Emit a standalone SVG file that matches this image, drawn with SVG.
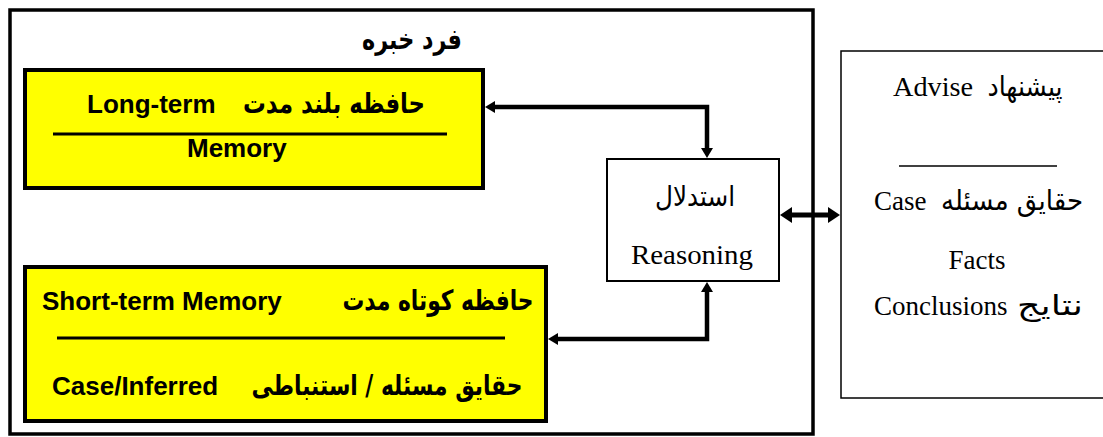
<svg xmlns="http://www.w3.org/2000/svg" width="1103" height="437" viewBox="0 0 1103 437">
  <style>
    .frame { fill: #ffffff; stroke: #000000; stroke-width: 3.5; }
    .mem { fill: #ffff00; stroke: #000000; stroke-width: 4; }
    .box { fill: #ffffff; stroke: #000000; stroke-width: 2; }
    .rbox { fill: #ffffff; stroke: #000000; stroke-width: 1.5; }
    .sep { stroke: #000000; stroke-width: 3; }
    .en { font-family: "Liberation Sans", Arial, sans-serif; font-weight: bold; font-size: 26px; fill: #000; }
    .fa { font-family: "DejaVu Sans", sans-serif; font-weight: bold; font-size: 28px; fill: #000; }
    .ser { font-family: "Liberation Serif", "Times New Roman", serif; font-size: 27px; fill: #000; }
    .fas { font-family: "DejaVu Sans", sans-serif; font-size: 28px; fill: #000; }
    .conn { fill: none; stroke: #000000; stroke-width: 4.5; }
    .conn2 { fill: none; stroke: #000000; stroke-width: 5; }
  </style>
  <defs>
    <marker id="ah" markerUnits="userSpaceOnUse" markerWidth="10" markerHeight="12" refX="0" refY="6" orient="auto-start-reverse">
      <path d="M0,0 L10,6 L0,12 z" fill="#000"/>
    </marker>
    <marker id="ahb" markerUnits="userSpaceOnUse" markerWidth="12" markerHeight="16" refX="0" refY="8" orient="auto-start-reverse">
      <path d="M0,0 L12,8 L0,16 z" fill="#000"/>
    </marker>
  </defs>

  <g id="expert">
    <rect class="frame" x="10" y="10" width="803" height="424"/>
    <text class="fa" x="412" y="49" text-anchor="middle" textLength="100" lengthAdjust="spacingAndGlyphs">فرد خبره</text>
  </g>

  <g id="long-term-memory">
    <rect class="mem" x="25" y="70" width="458" height="118"/>
    <text class="en" x="87" y="113">Long-term</text>
    <text class="fa" x="334" y="113" text-anchor="middle" textLength="182" lengthAdjust="spacingAndGlyphs">حافظه بلند مدت</text>
    <line class="sep" x1="53" y1="134" x2="447" y2="134"/>
    <text class="en" x="187" y="157">Memory</text>
  </g>

  <g id="short-term-memory">
    <rect class="mem" x="25" y="267" width="521" height="154"/>
    <text class="en" x="42" y="310">Short-term Memory</text>
    <text class="fa" x="438" y="310" text-anchor="middle" textLength="191" lengthAdjust="spacingAndGlyphs">حافظه کوتاه مدت</text>
    <line class="sep" x1="57" y1="338" x2="505" y2="338"/>
    <text class="en" x="52" y="395">Case/Inferred</text>
    <text class="fa" x="387" y="395" text-anchor="middle" textLength="271" lengthAdjust="spacingAndGlyphs">حقایق مسئله / استنباطی</text>
  </g>

  <g id="reasoning">
    <rect class="box" x="607" y="159" width="172" height="122"/>
    <text class="fas" x="695" y="206" text-anchor="middle" textLength="80" lengthAdjust="spacingAndGlyphs">استدلال</text>
    <text class="ser" x="692" y="264" text-anchor="middle" textLength="122" lengthAdjust="spacingAndGlyphs">Reasoning</text>
  </g>

  <g id="output">
    <rect class="rbox" x="841" y="51" width="280" height="347"/>
    <text class="ser" x="893" y="96" textLength="80" lengthAdjust="spacingAndGlyphs">Advise</text>
    <text class="fas" x="1025" y="96" text-anchor="middle" textLength="75" lengthAdjust="spacingAndGlyphs">پیشنهاد</text>
    <line x1="899" y1="166" x2="1057" y2="166" stroke="#000" stroke-width="1.3"/>
    <text class="ser" x="874" y="210">Case</text>
    <text class="fas" x="1012" y="210" text-anchor="middle" textLength="142" lengthAdjust="spacingAndGlyphs">حقایق مسئله</text>
    <text class="ser" x="977" y="269" text-anchor="middle">Facts</text>
    <text class="ser" x="874" y="315">Conclusions</text>
    <text class="fas" x="1050" y="315" text-anchor="middle" textLength="66" lengthAdjust="spacingAndGlyphs">نتایج</text>
  </g>

  <g id="connectors">
    <path class="conn" d="M707,148 V107 H495" marker-start="url(#ah)" marker-end="url(#ah)"/>
    <path class="conn" d="M707,292 V339 H558" marker-start="url(#ah)" marker-end="url(#ah)"/>
    <path class="conn2" d="M792,215 H828" marker-start="url(#ahb)" marker-end="url(#ahb)"/>
  </g>
</svg>
